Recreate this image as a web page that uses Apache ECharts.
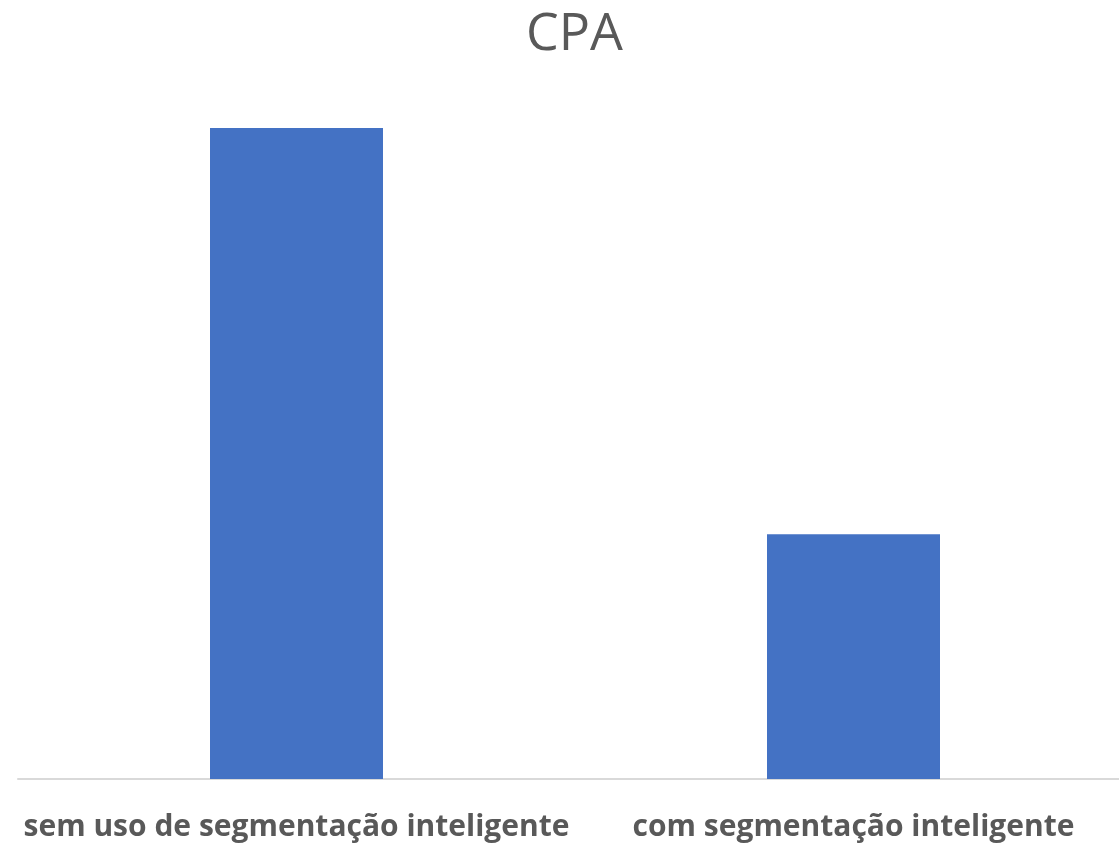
<!DOCTYPE html>
<html>
<head>
<meta charset="utf-8">
<script src="https://cdn.jsdelivr.net/npm/echarts@6/dist/echarts.min.js"></script>
<style>
  html, body { margin: 0; padding: 0; background: #ffffff; overflow: hidden; }
  #chart { width: 1119px; height: 844px; }
</style>
</head>
<body>
<div id="chart"></div>
<script>
// CPA comparison: without vs. with smart segmentation
const categories = ['sem uso de segmentação inteligente', 'com segmentação inteligente'];
const cpaValues = [100, 37.6];

const chart = echarts.init(document.getElementById('chart'), null, { renderer: 'canvas' });

chart.setOption({
  backgroundColor: '#ffffff',
  animation: false,
  title: {
    text: 'CPA',
    left: 521,
    top: 4,
    textStyle: {
      fontFamily: 'Open Sans',
      fontWeight: 'normal',
      fontSize: 52,
      color: '#595959'
    }
  },
  // plot area runs slightly past the right edge of the canvas
  grid: { left: 18, width: 1114, top: 128, bottom: 65, outerBoundsMode: 'none' },
  xAxis: {
    type: 'category',
    data: categories,
    axisLine: { lineStyle: { color: '#d9d9d9', width: 2 } },
    axisTick: { show: false },
    axisLabel: {
      interval: 0,
      margin: 33,
      fontFamily: 'Open Sans',
      fontWeight: 'bold',
      fontSize: 30,
      color: '#595959'
    }
  },
  yAxis: {
    type: 'value',
    min: 0,
    max: 100,
    show: false,
    splitLine: { show: false }
  },
  series: [{
    type: 'bar',
    data: cpaValues,
    barWidth: 173,
    itemStyle: { color: '#4472c4' }
  }]
});
</script>
</body>
</html>
